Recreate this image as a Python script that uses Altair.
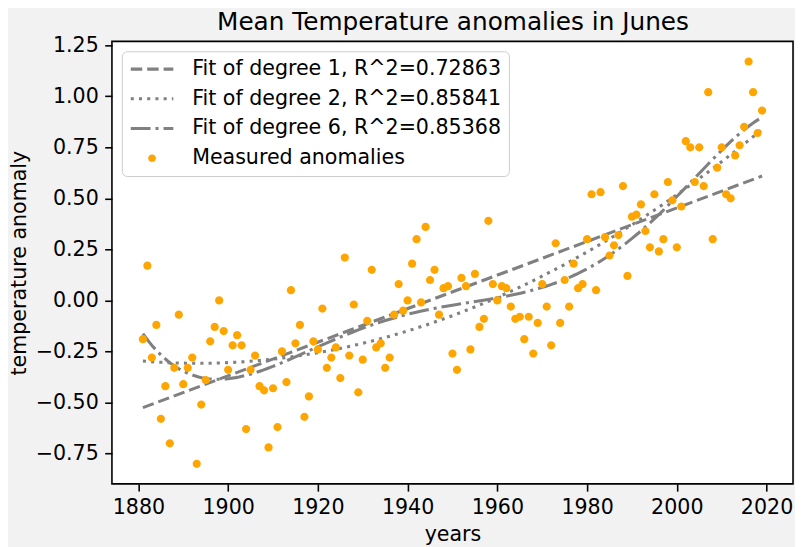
import altair as alt
import pandas as pd

YEARS = list(range(1881, 2020))
ANOMALIES = [
    -0.19, 0.17, -0.28, -0.12, -0.58, -0.42, -0.70, -0.33, -0.07, -0.41,
    -0.33, -0.28, -0.80, -0.51, -0.39, -0.20, -0.13, 0.00, -0.15, -0.34,
    -0.22, -0.17, -0.22, -0.63, -0.34, -0.27, -0.42, -0.44, -0.72, -0.43,
    -0.62, -0.25, -0.40, 0.05, -0.21, -0.12, -0.57, -0.47, -0.20, -0.24,
    -0.04, -0.33, -0.28, -0.23, -0.38, 0.21, -0.27, -0.02, -0.45, -0.29,
    -0.10, 0.15, -0.23, -0.21, -0.33, -0.28, -0.07, 0.08, -0.05, 0.00,
    0.18, 0.30, -0.01, 0.36, 0.10, 0.15, -0.07, 0.06, 0.07, -0.26,
    -0.34, 0.11, 0.07, -0.24, 0.13, -0.13, -0.09, 0.39, 0.08, 0.00,
    0.07, 0.06, -0.03, -0.09, -0.08, -0.19, -0.08, -0.26, -0.11, 0.08,
    -0.03, -0.22, 0.28, -0.11, 0.10, -0.03, 0.18, 0.06, 0.08, 0.30,
    0.52, 0.05, 0.53, 0.31, 0.22, 0.27, 0.32, 0.56, 0.12, 0.41,
    0.42, 0.47, 0.34, 0.26, 0.52, 0.24, 0.30, 0.58, 0.49, 0.26,
    0.46, 0.78, 0.75, 0.58, 0.75, 0.56, 1.02, 0.30, 0.65, 0.75,
    0.52, 0.50, 0.71, 0.76, 0.85, 1.17, 1.02, 0.82, 0.93,
]
SERIES = [
    "Fit of degree 1, R^2=0.72863",
    "Fit of degree 2, R^2=0.85841",
    "Fit of degree 6, R^2=0.85368",
    "Measured anomalies",
]
FIT_DEGREES = [1, 2, 6]
TITLE = "Mean Temperature anomalies in Junes"
X_TICKS = [1880, 1900, 1920, 1940, 1960, 1980, 2000, 2020]
Y_TICKS = [-0.75, -0.5, -0.25, 0.0, 0.25, 0.5, 0.75, 1.0, 1.25]
X_DOMAIN = [1874.1, 2025.9]
Y_DOMAIN = [-0.8985, 1.2685]

GRAY = "#808080"
ORANGE = "#ffa500"
DOT = "M0,-0.18A0.18,0.18,0,1,1,0,0.18A0.18,0.18,0,1,1,0,-0.18Z"
FONT = "DejaVu Sans"
FS = 20.8

df = pd.DataFrame({"year": YEARS, "anomaly": ANOMALIES, "series": SERIES[3]})

x_scale = alt.Scale(domain=X_DOMAIN, nice=False, zero=False)
y_scale = alt.Scale(domain=Y_DOMAIN, nice=False, zero=False)
x_axis = alt.Axis(values=X_TICKS, format="d", title="years", labelPadding=7, titlePadding=7.5)
y_axis = alt.Axis(values=Y_TICKS, format=".2f", title="temperature anomaly",
                  labelPadding=6.5, titlePadding=6)
top_axis = alt.Axis(
    orient="top", title=TITLE, labels=False, ticks=False, domain=False, grid=False,
    titleFontSize=25, titleBaseline="alphabetic", titleY=-12.5,
)

stroke_scale = alt.Scale(domain=SERIES, range=[GRAY, GRAY, GRAY, "transparent"])
fill_scale = alt.Scale(domain=SERIES, range=[GRAY, GRAY, GRAY, ORANGE])
dash_scale = alt.Scale(domain=SERIES, range=[[11.6, 5], [3.1, 5.2], [20, 5, 3.1, 5], [1, 0]])
shape_scale = alt.Scale(domain=SERIES, range=["stroke", "stroke", "stroke", DOT])

base = alt.Chart(df)

layers = []
for i, (deg, label) in enumerate(zip(FIT_DEGREES, SERIES[:3])):
    layers.append(
        base.transform_calculate(t="(datum.year - 1950) / 70")
        .transform_regression("t", "anomaly", method="poly", order=deg)
        .transform_calculate(year="datum.t * 70 + 1950", series=f"'{label}'")
        .mark_line(strokeWidth=3.1)
        .encode(
            x=alt.X("year:Q", scale=x_scale, axis=x_axis if i == 0 else None),
            y=alt.Y("anomaly:Q", scale=y_scale, axis=y_axis),
            stroke=alt.Stroke("series:N", scale=stroke_scale, legend=alt.Legend(title=None)),
            strokeDash=alt.StrokeDash("series:N", scale=dash_scale, legend=alt.Legend(title=None)),
        )
    )

points = base.mark_point(filled=True, size=2125, opacity=1).encode(
    x=alt.X("year:Q", scale=x_scale, axis=top_axis),
    y=alt.Y("anomaly:Q", scale=y_scale, axis=y_axis),
    fill=alt.Fill("series:N", scale=fill_scale, legend=alt.Legend(title=None)),
    stroke=alt.Stroke("series:N", scale=stroke_scale, legend=alt.Legend(title=None)),
    shape=alt.Shape("series:N", scale=shape_scale, legend=alt.Legend(title=None)),
)
layers.append(points)

chart = (
    alt.layer(*layers)
    .resolve_axis(x="independent")
    .properties(
        width=688,
        height=447,
        autosize=alt.AutoSizeParams(type="none"),
        padding={"left": 105, "top": 31, "right": 2, "bottom": 61},
    )
    .configure(background="#f2f2f2")
    .configure_view(fill="white", stroke="black", strokeWidth=1.6)
    .configure_axis(
        labelFont=FONT, labelFontSize=FS, labelColor="black",
        titleFont=FONT, titleFontSize=FS, titleFontWeight="normal", titleColor="black",
        tickColor="black", tickWidth=1.6, tickSize=7.3, domain=False, grid=False,
    )
    .configure_legend(
        orient="top-left", offset=10, padding=7,
        fillColor="rgba(255,255,255,0.8)", strokeColor="#cccccc", cornerRadius=5,
        labelFont=FONT, labelFontSize=FS, labelColor="black", labelLimit=400,
        labelOffset=17, rowPadding=8, clipHeight=22,
        symbolSize=1849, symbolStrokeWidth=3.1,
    )
)

chart.save("out.html", embed_options={"renderer": "svg", "actions": False})
